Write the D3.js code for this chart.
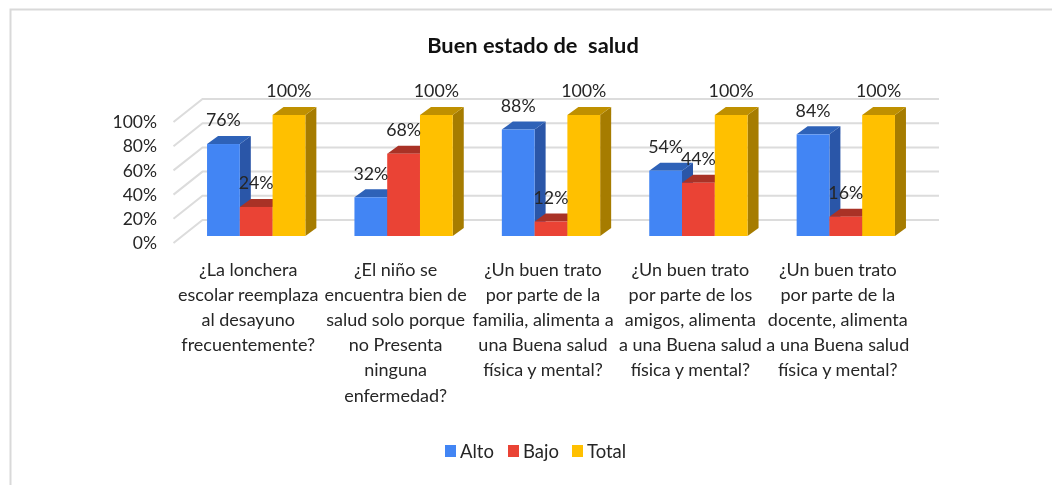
<!DOCTYPE html>
<html>
<head>
<meta charset="utf-8">
<title>Buen estado de salud</title>
<script src="https://d3js.org/d3.v7.min.js"></script>
<style>
    html, body { margin: 0; padding: 0; background: #fff; overflow: hidden; }
    svg { display: block; filter: blur(0.35px); }
    text { font-family: Lato, "Open Sans", sans-serif; fill: #262626; }
</style>
</head>
<body>
<div id="my_dataviz"></div>
<script>
    // Chart values
    var categories = [
        ["¿La lonchera", "escolar reemplaza", "al desayuno", "frecuentemente?"],
        ["¿El niño se", "encuentra bien de", "salud solo porque", "no Presenta", "ninguna", "enfermedad?"],
        ["¿Un buen trato", "por parte de la", "familia, alimenta a", "una Buena salud", "física y mental?"],
        ["¿Un buen trato", "por parte de los", "amigos, alimenta", "a una Buena salud", "física y mental?"],
        ["¿Un buen trato", "por parte de la", "docente, alimenta", "a una Buena salud", "física y mental?"]
    ];
    var seriesNames = ["Alto", "Bajo", "Total"];
    var alto = [76, 32, 88, 54, 84];
    var bajo = [24, 68, 12, 44, 16];
    var total = [100, 100, 100, 100, 100];
    var yTicks = [0, 20, 40, 60, 80, 100];

    var seriesValues = [alto, bajo, total];
    var colors = ["#4285f4", "#ea4335", "#ffc000"];
    var topColors = ["#2e62b8", "#a93226", "#bf9000"];
    var sideColors = ["#2a56a8", "#8f2a20", "#a67c00"];

    var width = 1052, height = 485;

    // 3D depth of the bars and of the walls
    var barDx = 11, barDy = 8;
    var wallFront = 7, wallBackDx = 29, wallBackDy = 23;

    var svg = d3.select("#my_dataviz")
        .append("svg")
        .attr("width", width)
        .attr("height", height);

    // Picture frame, only left and top are visible
    svg.append("path")
        .attr("d", "M10.5,485V9.5H1052")
        .attr("fill", "none")
        .attr("stroke", "#d9d9d9")
        .attr("stroke-width", 2);

    // Title
    svg.append("text")
        .attr("x", 533)
        .attr("y", 53)
        .attr("text-anchor", "middle")
        .style("font-size", "21.8px")
        .style("font-weight", "bold")
        .style("fill", "#111")
        .style("white-space", "pre")
        .text("Buen estado de  salud");

    // Scales, the bars stand on the plane y(0)
    var x = d3.scaleBand()
        .domain(d3.range(categories.length))
        .range([182.5, 919.5])
        .paddingInner(0.333)
        .paddingOuter(0.1665);
    var x1 = d3.scaleBand()
        .domain(d3.range(seriesNames.length))
        .range([0, x.bandwidth()]);
    var y = d3.scaleLinear().domain([0, 100]).range([236, 115]);

    // Gridlines on back wall and side wall
    var wallLeft = 173.5;
    var grid = svg.append("g")
        .attr("fill", "none")
        .attr("stroke", "#dcdcdc")
        .attr("stroke-width", 2);
    grid.selectAll("path")
        .data(yTicks)
        .enter()
        .append("path")
        .attr("d", function (d) {
            var front = y(d) + wallFront;
            return "M" + wallLeft + "," + front +
                "L" + (wallLeft + wallBackDx) + "," + (front - wallBackDy) +
                "H939";
        });

    // Y axis
    var yAxis = svg.append("g")
        .attr("transform", "translate(157," + wallFront + ")")
        .call(d3.axisLeft(y).tickValues(yTicks).tickSize(0).tickPadding(0)
            .tickFormat(function (d) { return d + "%"; }));
    yAxis.select(".domain").remove();
    yAxis.selectAll("text")
        .style("font-family", "Lato, 'Open Sans', sans-serif")
        .style("font-size", "17.5px")
        .style("fill", "#262626");

    // Bars
    var groups = svg.selectAll(".group")
        .data(categories)
        .enter()
        .append("g")
        .attr("class", "group")
        .attr("transform", function (d, i) { return "translate(" + x(i) + ",0)"; });

    seriesNames.forEach(function (name, s) {
        var bars = groups.append("g")
            .datum(function (d, i) { return seriesValues[s][i]; });

        // side face
        bars.append("path")
            .attr("fill", sideColors[s])
            .attr("d", function (d) {
                var x0 = x1(s) + x1.bandwidth();
                return "M" + x0 + "," + y(0) + "V" + y(d) +
                    "l" + barDx + "," + (-barDy) +
                    "V" + (y(0) - barDy) + "Z";
            });
        // top face
        bars.append("path")
            .attr("fill", topColors[s])
            .attr("d", function (d) {
                return "M" + x1(s) + "," + y(d) +
                    "l" + barDx + "," + (-barDy) +
                    "h" + x1.bandwidth() +
                    "l" + (-barDx) + "," + barDy + "Z";
            });
        // front face
        bars.append("rect")
            .attr("fill", colors[s])
            .attr("x", x1(s))
            .attr("y", function (d) { return y(d); })
            .attr("width", x1.bandwidth())
            .attr("height", function (d) { return y(0) - y(d); });
    });

    // Value labels go above everything else
    seriesNames.forEach(function (name, s) {
        groups.append("text")
            .attr("x", x1(s) + x1.bandwidth() / 2)
            .attr("y", function (d, i) { return y(seriesValues[s][i]) - 24; })
            .attr("dy", "0.35em")
            .attr("text-anchor", "middle")
            .style("font-size", "17.8px")
            .text(function (d, i) { return seriesValues[s][i] + "%"; });
    });

    // Category labels
    groups.append("text")
        .attr("text-anchor", "middle")
        .style("font-size", "18px")
        .each(function (lines) {
            d3.select(this).selectAll("tspan")
                .data(lines)
                .enter()
                .append("tspan")
                .attr("x", x.bandwidth() / 2 - 8)
                .attr("y", function (d, i) { return 276 + i * 25.1; })
                .text(function (d) { return d; });
        });

    // Legend
    var legendX = [445, 508, 572];
    var legend = svg.selectAll(".legend")
        .data(seriesNames)
        .enter()
        .append("g")
        .attr("class", "legend")
        .attr("transform", function (d, i) { return "translate(" + legendX[i] + ",445)"; });
    legend.append("rect")
        .attr("width", 11)
        .attr("height", 12)
        .attr("fill", function (d, i) { return colors[i]; });
    legend.append("text")
        .attr("x", 15)
        .attr("y", 12.5)
        .style("font-size", "18.5px")
        .text(function (d) { return d; });
</script>
</body>
</html>
